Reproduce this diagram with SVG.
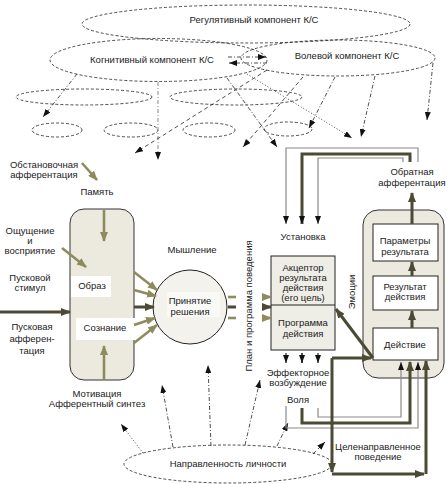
<svg xmlns="http://www.w3.org/2000/svg" width="447" height="484" viewBox="0 0 447 484">
<defs>
<style>
text{font-family:"Liberation Sans",Arial,sans-serif;font-size:9.5px;fill:#222;text-anchor:middle}
.el{fill:none;stroke:#222;stroke-width:0.8;stroke-dasharray:3,2}
.dd{fill:none;stroke:#222;stroke-width:0.8;stroke-dasharray:4,2,1,2}
.da{fill:none;stroke:#222;stroke-width:0.8;stroke-dasharray:4,3}
.dt{fill:none;stroke:#222;stroke-width:0.8;stroke-dasharray:1,2}
.ol{fill:none;stroke:#8e8c5f;stroke-width:2.6}
.dk{fill:none;stroke:#4b4a34;stroke-width:3}
.gr{fill:none;stroke:#8a8a8a;stroke-width:1.2}
.box{fill:#fff;stroke:#222;stroke-width:1}
.pan{fill:#eceadf;stroke:#333;stroke-width:1}
</style>
<marker id="ab" viewBox="0 0 8 6" refX="8" refY="3" markerWidth="8" markerHeight="6" markerUnits="userSpaceOnUse" orient="auto"><path d="M0,0L8,3L0,6z" fill="#111"/></marker>
<marker id="ao" viewBox="0 0 10 8" refX="9" refY="4" markerWidth="10" markerHeight="8" markerUnits="userSpaceOnUse" orient="auto"><path d="M0,0L10,4L0,8z" fill="#8e8c5f"/></marker>
<marker id="ad" viewBox="0 0 10 8" refX="9" refY="4" markerWidth="10" markerHeight="8" markerUnits="userSpaceOnUse" orient="auto"><path d="M0,0L10,4L0,8z" fill="#4b4a34"/></marker>
</defs>
<rect width="447" height="484" fill="#fff"/>

<g id="reg"><ellipse class="el" cx="246" cy="24" rx="164" ry="19"/><text x="254" y="23">Регулятивный компонент К/С</text></g>
<g id="cog"><ellipse class="el" cx="158.5" cy="60" rx="108.5" ry="21.5"/><text x="152" y="63">Когнитивный компонент К/С</text></g>
<g id="vol"><ellipse class="el" cx="338" cy="58" rx="97" ry="18"/><text x="347" y="59">Волевой компонент К/С</text></g>
<g id="e1"><ellipse class="el" cx="84" cy="97" rx="68" ry="8"/></g>
<g id="e2"><ellipse class="el" cx="236" cy="97" rx="66" ry="8"/></g>
<g id="e3"><ellipse class="el" cx="57" cy="130" rx="25" ry="7"/></g>
<g id="e4"><ellipse class="el" cx="131" cy="130" rx="27" ry="7"/></g>
<g id="e5"><ellipse class="el" cx="209" cy="130" rx="26" ry="7"/></g>
<g id="e6"><ellipse class="el" cx="288" cy="129" rx="24" ry="7"/></g>

<g id="labels-left">
<text x="44" y="168">Обстановочная</text><text x="44" y="178">афферентация</text>
<text x="97" y="195">Память</text>
<text x="30" y="234">Ощущение</text><text x="30" y="244">и</text><text x="30" y="254">восприятие</text>
<text x="30" y="281">Пусковой</text><text x="30" y="291">стимул</text>
<text x="32" y="330">Пусковая</text><text x="32" y="342">афферен-</text><text x="32" y="354">тация</text>
<text x="97" y="397">Мотивация</text><text x="97" y="407">Афферентный синтез</text>
<text x="192" y="253">Мышление</text>
</g>

<g id="synth">
<rect class="pan" x="70" y="209" width="64" height="171" rx="14"/>
<rect x="71" y="276" width="40" height="21" fill="#fff"/><text x="92" y="289">Образ</text>
<rect x="76" y="318" width="60" height="22" fill="#fff"/><text x="105" y="331">Сознание</text>
</g>

<g id="decision">
<circle cx="190" cy="307" r="37" fill="#f3f2ec" stroke="#222" stroke-width="1"/>
<rect x="167" y="292" width="53" height="25" fill="#f9f9f6"/>
<text x="190" y="304">Принятие</text><text x="190" y="315">решения</text>
</g>

<g id="plan"><text x="251.5" y="306" transform="rotate(-90 251.5 306)">План и программа поведения</text></g>

<g id="acceptor">
<rect x="271" y="256" width="64" height="94" fill="#eeede6" stroke="#222" stroke-width="1"/>
<line x1="271" y1="305" x2="335" y2="305" stroke="#222" stroke-width="1"/>
<text x="303" y="270.5">Акцептор</text><text x="303" y="280.5">результата</text><text x="303" y="290.5">действия</text><text x="303" y="300.5">(его цель)</text>
<text x="303" y="325.5">Программа</text><text x="303" y="336.5">действия</text>
</g>

<g id="labels-mid">
<text x="303" y="240">Установка</text>
<text x="412" y="175">Обратная</text><text x="412" y="186">афферентация</text>
<text x="298" y="376">Эффекторное</text><text x="298" y="386">возбуждение</text>
<text x="298" y="403">Воля</text>
<text x="378" y="450">Целенаправленное</text><text x="378" y="460">поведение</text>
<text x="354.5" y="292" transform="rotate(-90 354.5 292)">Эмоции</text>
</g>

<g id="result">
<rect class="pan" x="363" y="210" width="81" height="168" rx="15"/>
<rect class="box" x="373" y="224" width="65" height="37"/><text x="405" y="244">Параметры</text><text x="405" y="255">результата</text>
<rect class="box" x="373" y="276" width="65" height="34"/><text x="405" y="289.5">Результат</text><text x="405" y="299.5">действия</text>
<rect class="box" x="373" y="328" width="65" height="32"/><text x="405" y="347.5">Действие</text>
</g>

<g id="personality"><ellipse class="el" cx="228" cy="464" rx="104" ry="19"/><text x="228" y="467">Направленность личности</text></g>

<g id="connectors">
<path class="dd" d="M228,57H266" marker-end="url(#ab)"/>
<path class="dd" d="M267,63H229" marker-end="url(#ab)"/>
<path class="dd" d="M77,74L43,117" marker-end="url(#ab)"/>
<path d="M158,82V160" fill="none" stroke="#888" stroke-width="1" stroke-dasharray="4,2,1,2" marker-end="url(#ab)"/>
<path class="da" d="M267,70L135,153" marker-end="url(#ab)"/>
<path class="dd" d="M227,78L277,147" marker-end="url(#ab)"/>
<path class="dt" d="M247,74L352,138" marker-end="url(#ab)"/>
<path class="da" d="M303,77L243,147" marker-end="url(#ab)"/>
<path class="dd" d="M335,77L309,128" marker-end="url(#ab)"/>
<path class="dd" d="M375,76L361,137" marker-end="url(#ab)"/>
<path class="dd" d="M433,63L427,120" marker-end="url(#ab)"/>

<path class="dt" d="M143,453L121,424" marker-end="url(#ab)"/>
<path class="dd" d="M173,447L162,385" marker-end="url(#ab)"/>
<path class="dd" d="M211,446L208,365" marker-end="url(#ab)"/>
<path class="dd" d="M245,445L260,380" marker-end="url(#ab)"/>
<path class="dd" d="M277,446L288,423" marker-end="url(#ab)"/>
<path class="da" d="M313,454L325,442" marker-end="url(#ab)"/>

<path class="ol" d="M82,163L97,180" marker-end="url(#ao)"/>
<path class="ol" d="M104,210V241" marker-end="url(#ao)"/>
<path class="ol" d="M62,248L86,267" marker-end="url(#ao)"/>
<path class="ol" d="M104,380V346" stroke-width="3.5" marker-end="url(#ao)"/>
<path class="dk" d="M0,312H70" stroke-width="3.5" marker-end="url(#ad)"/>
<path class="ol" d="M134,272L157,290" marker-end="url(#ao)"/>
<path class="ol" d="M134,290L156,296" marker-end="url(#ao)"/>
<path class="dk" d="M134,307H154" stroke-width="2.6" marker-end="url(#ad)"/>
<path class="ol" d="M134,325L155,318" marker-end="url(#ao)"/>
<path class="ol" d="M134,343L157,325" marker-end="url(#ao)"/>

<path class="ol" d="M228,297H236"/>
<path class="dk" d="M228,307H236" stroke-width="2.4"/>
<path class="ol" d="M228,318H236"/>
<path class="ol" d="M262,297H271" marker-end="url(#ao)"/>
<path class="dk" d="M262,307H271" stroke-width="2.4" marker-end="url(#ad)"/>
<path class="ol" d="M262,318H271" marker-end="url(#ao)"/>

<path class="gr" d="M418,162V148H286V224" marker-end="url(#ab)"/>
<path class="dk" d="M410,162V154H302V224" marker-end="url(#ab)"/>
<path class="gr" d="M403,162V158H318V224" marker-end="url(#ab)"/>
<path class="dk" d="M412,224V193" marker-end="url(#ad)"/>
<path class="dk" d="M412,276V262" marker-end="url(#ad)"/>
<path class="dk" d="M412,328V311" marker-end="url(#ad)"/>

<path d="M286,353V363" stroke="#222" stroke-width="1.2" marker-end="url(#ab)"/>
<path d="M302,353V363" stroke="#222" stroke-width="1.6" marker-end="url(#ab)"/>
<path d="M318,353V363" stroke="#222" stroke-width="1.2" marker-end="url(#ab)"/>

<path class="gr" d="M318,408V417H401V362" marker-end="url(#ab)"/>
<path class="dk" d="M302,408V423H410V362" marker-end="url(#ad)"/>
<path class="gr" d="M286,406V428H418V362" marker-end="url(#ab)"/>

<path class="dk" d="M373,358L336,309" marker-end="url(#ad)"/>
<path class="dk" d="M332,358H371" marker-end="url(#ad)"/>
<path class="dk" d="M332,358V472" marker-end="url(#ad)"/>
<path class="dk" d="M332,474H424" marker-end="url(#ad)"/>
<path class="dk" d="M426,474V361" marker-end="url(#ad)"/>
</g>
</svg>
